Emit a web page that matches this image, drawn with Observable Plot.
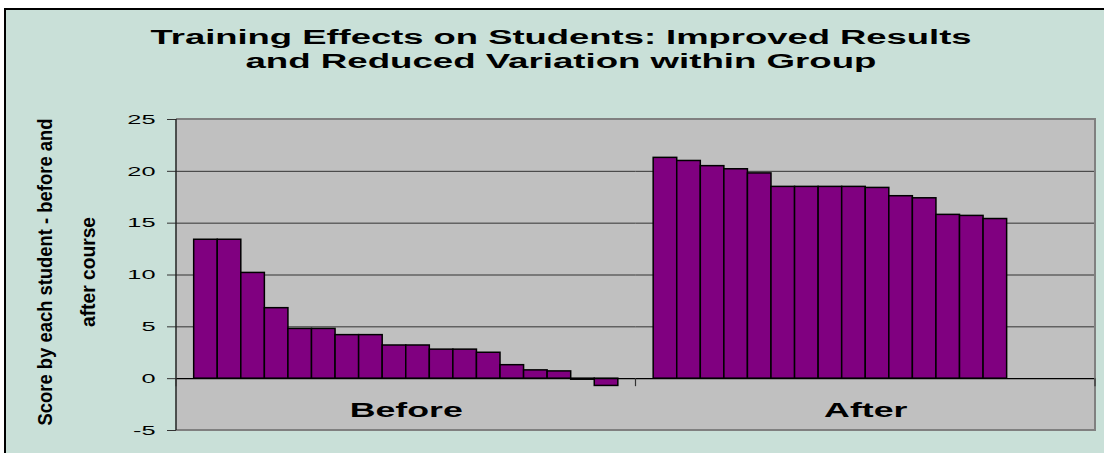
<!DOCTYPE html>
<html>
<head>
<meta charset="utf-8">
<script src="https://cdn.jsdelivr.net/npm/d3@7"></script>
<script src="https://cdn.jsdelivr.net/npm/@observablehq/plot@0.6"></script>
<style>
  html, body { margin: 0; padding: 0; background: #ffffff; overflow: hidden; }
  #wrap { position: relative; width: 1104px; height: 453px; overflow: hidden; font-family: "Liberation Sans", Arial, sans-serif; }
  #panel { position: absolute; left: 4px; top: 8px; width: 1120px; height: 470px; border: 2px solid #000; background: #C9E0D8; }
  #chart, #overlay { position: absolute; left: 0; top: 0; }
</style>
</head>
<body>
<div id="wrap">
  <div id="panel"></div>
  <div id="chart"></div>
  <svg id="overlay" width="1104" height="453"></svg>
</div>
<script>
// ---- data ----
const groups = ["Before", "After"];
const beforeScores = [13.4, 13.4, 10.2, 6.8, 4.8, 4.8, 4.2, 4.2, 3.2, 3.2, 2.8, 2.8, 2.5, 1.3, 0.8, 0.7, -0.1, -0.7];
const afterScores = [21.3, 21.0, 20.5, 20.2, 19.8, 18.5, 18.5, 18.5, 18.5, 18.4, 17.6, 17.4, 15.8, 15.7, 15.4];
const yTicks = [-5, 0, 5, 10, 15, 20, 25];
const gridValues = [5, 10, 15, 20];
const titleLines = ["Training Effects on Students: Improved Results", "and Reduced Variation within Group"];
const yLabelLines = ["Score by each student - before and", "after course"];

const slotCount = Math.max(beforeScores.length, afterScores.length);
const rows = [
  ...beforeScores.map((v, i) => ({group: groups[0], slot: i, value: v})),
  ...afterScores.map((v, i) => ({group: groups[1], slot: i, value: v}))
];

// decorations: plot-area border, axis line, category separator ticks (drawn once)
let decorCalls = 0;
function decor(index, scales, values, dims) {
  const g = d3.create("svg:g");
  const first = (index && index.fx !== undefined) ? index.fx === groups[0] : decorCalls === 0;
  decorCalls++;
  if (!first) return g.node();
  const {fx, y} = scales;
  const {width, height, marginTop, marginBottom, marginLeft, marginRight} = dims;
  const x0 = fx ? fx(groups[0]) : marginLeft;
  const x1 = fx ? fx(groups[groups.length - 1]) + fx.bandwidth() : width - marginRight;
  const yT = y(25), yB = y(-5);
  g.append("path")
    .attr("d", `M${x0},${yT}H${x1}V${yB}H${x0}`)
    .attr("fill", "none").attr("stroke", "#808080").attr("stroke-width", 2);
  g.append("line").attr("x1", x0).attr("x2", x0).attr("y1", yT).attr("y2", yB)
    .attr("stroke", "#222").attr("stroke-width", 1.5);
  const y0 = y(0);
  const edges = fx ? [...groups.map(k => fx(k)), x1] : [x0, x1];
  for (const e of edges) {
    g.append("line").attr("x1", e).attr("x2", e).attr("y1", y0).attr("y2", y0 + 8)
      .attr("stroke", "#333").attr("stroke-width", 1.2);
  }
  return g.node();
}

const plot = Plot.plot({
  width: 1104,
  height: 453,
  marginLeft: 176,
  marginRight: 9,
  marginTop: 119,
  marginBottom: 23,
  style: {background: "transparent", fontFamily: "Liberation Sans, Arial, sans-serif", color: "#000", overflow: "visible"},
  fx: {domain: groups, padding: 0, round: false, axis: null},
  x: {domain: d3.range(slotCount), paddingInner: 0, paddingOuter: 0.75, round: false, axis: null},
  y: {domain: [-5, 25], axis: null},
  marks: [
    Plot.frame({fill: "#C0C0C0", stroke: "none"}),
    Plot.ruleY(gridValues, {stroke: "#333", strokeWidth: 1}),
    Plot.barY(rows, {fx: "group", x: "slot", y: "value", fill: "#800080", stroke: "#000", strokeWidth: 1.5, inset: 0}),
    Plot.ruleY([0], {stroke: "#000", strokeWidth: 1.3}),
    Plot.text(groups, {fx: d => d, text: d => d, frameAnchor: "bottom", lineAnchor: "middle", dy: -20,
      fontSize: 21, fontWeight: "bold", fill: "#000"}),
    Plot.axisY({ticks: yTicks, tickSize: 9, tickPadding: 12, fontSize: 13, stroke: "#333",
      tickFormat: d => String(d), label: null}),
    decor
  ]
});

document.getElementById("chart").appendChild(plot);

// stretch labels horizontally like the reference rendering
function stretch(el, factor) {
  const len = el.getComputedTextLength();
  el.setAttribute("textLength", (len * factor).toFixed(1));
  el.setAttribute("lengthAdjust", "spacingAndGlyphs");
}
d3.select(plot).selectAll("text").each(function () {
  const t = this.textContent;
  if (groups.includes(t)) stretch(this, 1.7);
  else stretch(this, 1.95);
});

// title and rotated y label
const ov = d3.select("#overlay");
const fam = "Liberation Sans, Arial, sans-serif";
const titleSpec = [{y: 44, len: 821}, {y: 68, len: 631}];
titleLines.forEach((t, i) => {
  ov.append("text").attr("x", 561).attr("y", titleSpec[i].y)
    .attr("text-anchor", "middle").attr("font-family", fam).attr("font-weight", "bold")
    .attr("font-size", 20).attr("fill", "#000")
    .attr("textLength", titleSpec[i].len).attr("lengthAdjust", "spacingAndGlyphs")
    .text(t);
});
const ySpec = [{x: 52, len: 307}, {x: 95, len: 110}];
yLabelLines.forEach((t, i) => {
  ov.append("text").attr("transform", `translate(${ySpec[i].x},272) rotate(-90)`)
    .attr("text-anchor", "middle").attr("font-family", fam).attr("font-weight", "bold")
    .attr("font-size", 21).attr("fill", "#000")
    .attr("textLength", ySpec[i].len).attr("lengthAdjust", "spacingAndGlyphs")
    .text(t);
});
</script>
</body>
</html>
